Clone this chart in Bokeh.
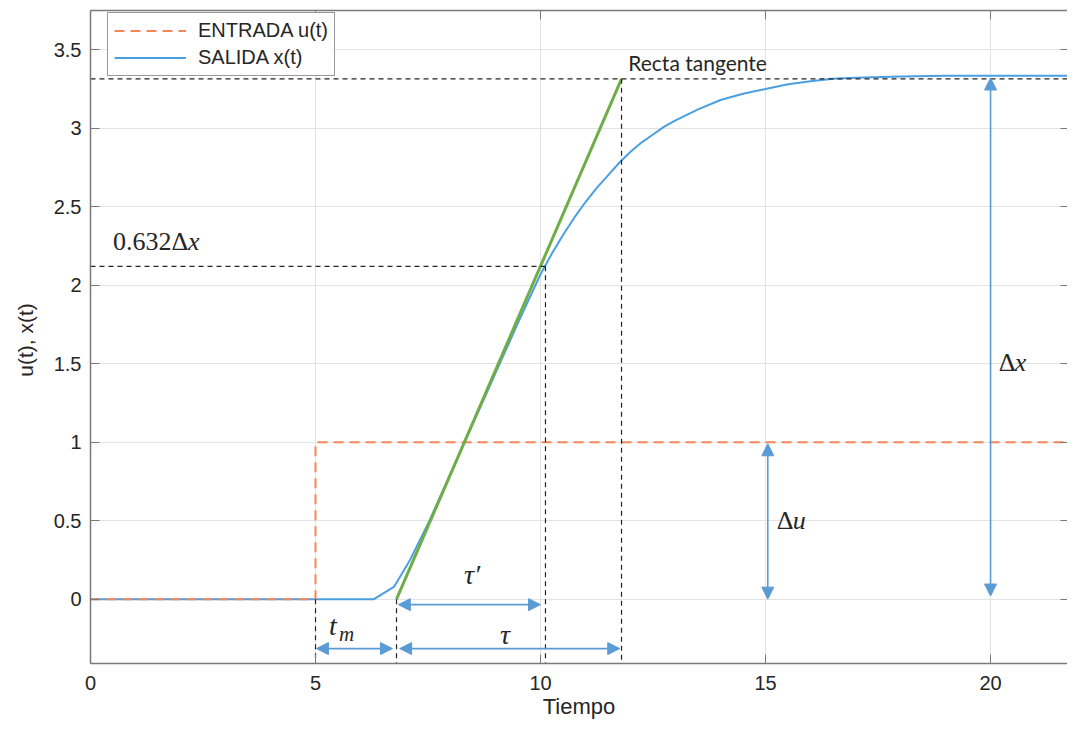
from bokeh.plotting import figure
from bokeh.models import (Range1d, FixedTicker, LinearAxis, Legend, LegendItem,
                          Arrow, NormalHead, Label, CustomLabelingPolicy)
from bokeh.embed import file_html
from bokeh.resources import INLINE

# ---------------- data ----------------
t_out = [0, 6.3, 6.75, 7.1, 7.5, 8.0, 8.5, 9.0, 9.5, 10.0, 10.25, 10.5, 10.75,
         11.0, 11.25, 11.5, 11.75, 12.0, 12.25, 12.5, 12.75, 13.0, 13.5, 14.0,
         14.5, 15.0, 15.5, 16.0, 16.5, 17.0, 18.0, 19.0, 22.0]
x_out = [0, 0, 0.08, 0.25, 0.48, 0.80, 1.12, 1.44, 1.76, 2.07, 2.20, 2.32, 2.43,
         2.53, 2.62, 2.70, 2.78, 2.85, 2.91, 2.96, 3.01, 3.05, 3.12, 3.18,
         3.22, 3.25, 3.28, 3.30, 3.315, 3.322, 3.33, 3.335, 3.335]
t_in = [0, 5, 5, 22]
u_in = [0, 0, 1, 1]
tangent_t = [6.8, 11.8]
tangent_x = [0, 3.315]
t_dead = 5.0        # step time
t_start = 6.8       # tangent start
t_632 = 10.11       # time at 0.632*dx
t_tau = 11.8        # tangent end
x_632 = 2.12
x_final = 3.315
x_ticks = [0, 5, 10, 15, 20]
y_ticks = [0, 0.5, 1, 1.5, 2, 2.5, 3, 3.5]
y_tick_labels = ["0", "0.5", "1", "1.5", "2", "2.5", "3", "3.5"]

X_MIN, X_MAX = 0, 21.71
Y_MIN, Y_MAX = -0.41, 3.75

BLUE = "#4A9FE3"
ORANGE = "#F0875A"
GREEN = "#70AD47"
ARROW = "#5B9BD5"
AX = "#7a7a7a"
TXT = "#262626"

p = figure(width=1067, height=725, x_range=Range1d(X_MIN, X_MAX),
           y_range=Range1d(Y_MIN, Y_MAX), output_backend="svg",
           toolbar_location=None, min_border_left=90, min_border_right=0,
           min_border_top=10, min_border_bottom=62)
p.outline_line_color = None
p.background_fill_color = "white"

# axes
for ax in (p.xaxis[0], p.yaxis[0]):
    ax.axis_line_color = AX
    ax.axis_line_width = 1.5
    ax.major_tick_line_color = AX
    ax.major_tick_in = 9
    ax.major_tick_out = 0
    ax.minor_tick_line_color = None
    ax.major_label_text_font = "Liberation Sans"
    ax.major_label_text_font_size = "20px"
    ax.major_label_text_color = TXT
    ax.axis_label_text_font = "Liberation Sans"
    ax.axis_label_text_font_style = "normal"
    ax.axis_label_text_color = TXT

p.xaxis.ticker = FixedTicker(ticks=x_ticks)
p.yaxis.ticker = FixedTicker(ticks=y_ticks)
p.yaxis.major_label_overrides = {float(v): s for v, s in zip(y_ticks, y_tick_labels)}
p.xaxis.major_label_standoff = 12
p.xaxis.axis_label = "Tiempo"
p.xaxis.axis_label_text_font_size = "22px"
p.xaxis.axis_label_standoff = 1
p.yaxis.major_label_standoff = 9
p.yaxis.axis_label = "u(t),  x(t)"
p.yaxis.axis_label_text_font_size = "21px"
p.yaxis.axis_label_standoff = 14

no_labels = CustomLabelingPolicy(code="""
const all = Array.from(indices);
for (const i of all) { indices.unset(i); }
return indices;
""")
top = LinearAxis(ticker=FixedTicker(ticks=x_ticks), axis_line_color=AX,
                 axis_line_width=1.5, major_tick_line_color=AX, major_tick_in=9,
                 major_tick_out=0, minor_tick_line_color=None,
                 major_label_policy=no_labels,
                 major_label_text_font_size="0px", major_label_standoff=0)
p.add_layout(top, "above")
right = LinearAxis(ticker=FixedTicker(ticks=y_ticks), axis_line_color=None,
                   major_tick_line_color=AX, major_tick_in=7,
                   major_tick_out=0, minor_tick_line_color=None,
                   major_label_policy=no_labels,
                   major_label_text_font_size="0px", major_label_standoff=0)
p.add_layout(right, "right")

p.xgrid.ticker = FixedTicker(ticks=x_ticks)
p.ygrid.ticker = FixedTicker(ticks=y_ticks)
p.grid.grid_line_color = "#e3e3e3"
p.grid.grid_line_width = 1

# curves
r_x = p.line(t_out, x_out, line_color=BLUE, line_width=2)
r_u = p.line(t_in, u_in, line_color=ORANGE, line_width=2, line_dash="10 6")
p.line(tangent_t, tangent_x, line_color=GREEN, line_width=3)

# dashed helper lines
dash = dict(line_color="#222222", line_width=1.2, line_dash="5 4")
p.line([X_MIN, 22], [x_final, x_final], **dash)
p.line([X_MIN, t_632], [x_632, x_632], **dash)
p.line([t_632, t_632], [x_632, Y_MIN], **dash)
p.line([t_tau, t_tau], [x_final, Y_MIN], **dash)
p.line([t_start, t_start], [0, Y_MIN], **dash)
p.line([t_dead, t_dead], [0, Y_MIN], **dash)


def darrow(x0, y0, x1, y1):
    p.add_layout(Arrow(x_start=x0, y_start=y0, x_end=x1, y_end=y1,
                       line_color=ARROW, line_width=1.6,
                       start=NormalHead(size=12, fill_color=ARROW, line_color=ARROW),
                       end=NormalHead(size=12, fill_color=ARROW, line_color=ARROW)))


darrow(5.02, -0.315, 6.71, -0.315)
darrow(6.87, -0.315, 11.76, -0.315)
darrow(6.84, -0.035, 10.0, -0.035)
darrow(15.05, 0.0, 15.05, 0.99)
darrow(20.0, 0.02, 20.0, 3.32)

SERIF = "Liberation Serif"


def lab(x, y, text, size="24px", style="normal", font=SERIF, xo=0, yo=0,
        align="left", base="middle"):
    p.add_layout(Label(x=x, y=y, text=text, text_font=font, text_font_size=size,
                       text_font_style=style, text_color=TXT, x_offset=xo,
                       y_offset=yo, text_align=align, text_baseline=base))


lab(11.95, 3.42, "Recta tangente", size="21px", font="Lato")
lab(0.5, 2.28, "0.632Δ", size="26px")
lab(0.5, 2.28, "x", size="26px", style="italic", xo=75)
lab(20.18, 1.51, "Δ", size="26px")
lab(20.18, 1.51, "x", size="26px", style="italic", xo=16)
lab(15.25, 0.50, "Δ", size="26px")
lab(15.25, 0.50, "u", size="26px", style="italic", xo=16)
lab(5.3, -0.17, "t", size="28px", style="italic")
lab(5.3, -0.17, "m", size="21px", style="italic", xo=10, yo=-8)
lab(8.3, 0.155, "τ′", size="28px", style="italic")
lab(9.1, -0.225, "τ", size="28px", style="italic")

legend = Legend(items=[LegendItem(label="ENTRADA u(t)", renderers=[r_u]),
                       LegendItem(label="SALIDA x(t)", renderers=[r_x])],
                location=(17, 587))
legend.label_text_font = "Liberation Sans"
legend.label_text_font_size = "20px"
legend.label_text_color = TXT
legend.glyph_width = 72
legend.glyph_height = 21
legend.label_height = 21
legend.label_standoff = 12
legend.padding = 6
legend.spacing = 4
legend.margin = 0
legend.border_line_color = "#333333"
legend.border_line_width = 1.2
legend.background_fill_alpha = 1
p.add_layout(legend)

open("out.html", "w").write(file_html(p, INLINE))
